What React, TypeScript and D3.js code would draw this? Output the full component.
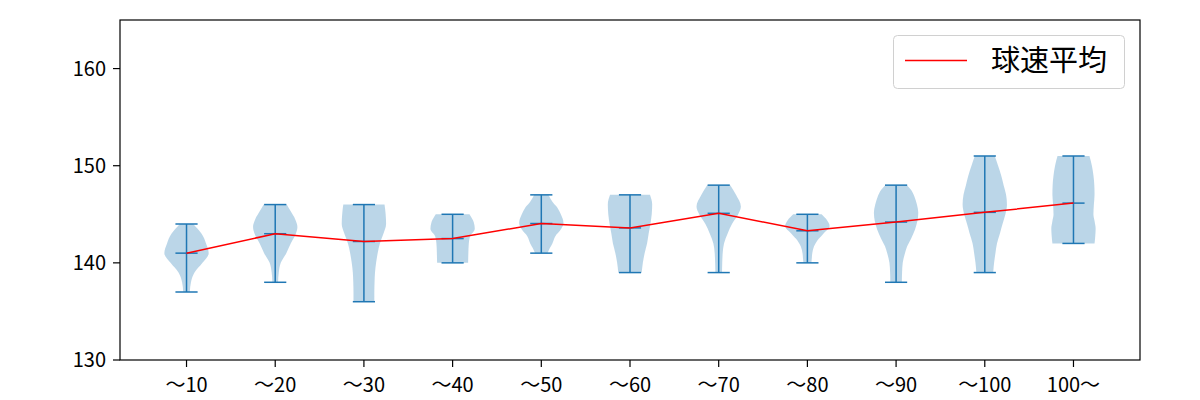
import * as d3 from "d3";

const categories = ["〜10", "〜20", "〜30", "〜40", "〜50", "〜60", "〜70", "〜80", "〜90", "〜100", "100〜"];
const means = [141.0, 143.0, 142.2, 142.5, 144.05, 143.6, 145.1, 143.3, 144.2, 145.2, 146.15];
const mins = [137, 138, 136, 140, 141, 139, 139, 140, 138, 139, 142];
const maxs = [144, 146, 146, 145, 147, 147, 148, 145, 148, 151, 151];
const yTicks = [130, 140, 150, 160];

// density outline per violin: [speed, relative half-width]
const profiles: [number, number][][] = [
  [[137, 0.15], [138, 0.2], [139, 0.36], [140, 0.72], [141, 1.0], [142, 0.88], [143, 0.68], [143.5, 0.5], [144, 0.3]],
  [[138, 0.13], [139, 0.16], [140, 0.25], [141, 0.5], [142, 0.7], [143, 0.93], [143.7, 1.0], [144.5, 0.9], [145.3, 0.7], [146, 0.52]],
  [[136, 0.47], [137, 0.47], [138, 0.48], [139, 0.5], [140, 0.55], [141, 0.62], [142, 0.72], [143, 0.88], [144, 1.0], [145, 0.98], [146, 0.93]],
  [[140, 0.7], [141, 0.71], [142, 0.73], [142.7, 0.78], [143.5, 1.0], [144.2, 0.95], [145, 0.76]],
  [[141, 0.28], [141.5, 0.38], [142, 0.5], [142.7, 0.62], [143.5, 0.9], [144.1, 1.0], [145, 0.88], [145.7, 0.72], [146.3, 0.5], [147, 0.32]],
  [[139, 0.53], [140, 0.58], [141, 0.66], [142, 0.77], [143, 0.84], [144, 0.92], [145, 0.98], [146, 1.0], [147, 0.9]],
  [[139, 0.15], [140, 0.16], [141, 0.18], [142, 0.24], [143, 0.4], [144, 0.6], [145, 0.88], [145.8, 1.0], [147, 0.78], [148, 0.52]],
  [[140, 0.18], [140.5, 0.2], [141, 0.22], [141.7, 0.3], [142.3, 0.45], [143, 0.72], [143.8, 1.0], [144.4, 0.88], [145, 0.64]],
  [[138, 0.26], [139, 0.27], [140, 0.3], [141, 0.4], [141.7, 0.5], [142.5, 0.68], [143.4, 0.85], [144.3, 0.96], [145.1, 1.0], [146, 0.94], [146.8, 0.83], [147.5, 0.68], [148, 0.49]],
  [[139, 0.38], [140, 0.42], [141, 0.48], [142, 0.55], [143, 0.68], [144, 0.8], [145, 0.93], [146, 1.0], [147, 0.96], [148, 0.85], [149, 0.74], [150, 0.6], [151, 0.45]],
  [[142, 0.95], [142.7, 0.98], [143.5, 1.0], [144.3, 0.95], [145, 0.9], [146, 0.92], [147, 0.95], [148, 0.94], [149, 0.9], [150, 0.83], [151, 0.72]],
];

const W = 1200;
const H = 400;
const left = 120;
const right = 1140;
const top = 20;
const bottom = 360;
const tickLen = 7;
const blue = "#1f77b4";
const font = "'Noto Sans CJK JP', 'Noto Sans', sans-serif";

export default function App() {
  const x = d3.scaleLinear().domain([0.25, categories.length + 0.75]).range([left, right]);
  const y = d3.scaleLinear().domain([130, 165]).range([bottom, top]);
  const halfW = x(1.25) - x(1);
  const capW = x(1.125) - x(1);

  const meanLine = d3
    .line<number>()
    .x((_, i) => x(i + 1))
    .y((d) => y(d));

  return (
    <svg
      width={W}
      height={H}
      style={{ position: "absolute", left: 0, top: 0, background: "#fff" }}
      fontFamily={font}
    >
      <rect x={0} y={0} width={W} height={H} fill="#fff" />
      {profiles.map((p, i) => {
        const cx = x(i + 1);
        const area = d3
          .area<[number, number]>()
          .y((d) => y(d[0]))
          .x0((d) => cx - d[1] * halfW)
          .x1((d) => cx + d[1] * halfW)
          .curve(d3.curveMonotoneY);
        return <path key={"v" + i} d={area(p) ?? ""} fill={blue} fillOpacity={0.3} />;
      })}
      {categories.map((_, i) => {
        const cx = x(i + 1);
        return (
          <g key={"l" + i} stroke={blue} strokeWidth={1.5}>
            <line x1={cx} x2={cx} y1={y(mins[i])} y2={y(maxs[i])} />
            <line x1={cx - capW} x2={cx + capW} y1={y(mins[i])} y2={y(mins[i])} />
            <line x1={cx - capW} x2={cx + capW} y1={y(maxs[i])} y2={y(maxs[i])} />
            <line x1={cx - capW} x2={cx + capW} y1={y(means[i])} y2={y(means[i])} />
          </g>
        );
      })}
      <path d={meanLine(means) ?? ""} fill="none" stroke="red" strokeWidth={1.5} />

      <rect x={left} y={top} width={right - left} height={bottom - top} fill="none" stroke="#000" strokeWidth={1.2} />

      {yTicks.map((t) => (
        <g key={"yt" + t}>
          <line x1={left - tickLen} x2={left} y1={y(t)} y2={y(t)} stroke="#000" strokeWidth={1.2} />
          <text x={left - 14} y={y(t)} dy="0.35em" textAnchor="end" fontSize={20} fill="#000">
            {t}
          </text>
        </g>
      ))}
      {categories.map((c, i) => (
        <g key={"xt" + i}>
          <line x1={x(i + 1)} x2={x(i + 1)} y1={bottom} y2={bottom + tickLen} stroke="#000" strokeWidth={1.2} />
          <text x={x(i + 1)} y={bottom + 32} textAnchor="middle" fontSize={20} fill="#000">
            {c}
          </text>
        </g>
      ))}

      <g>
        <rect x={893.5} y={35.5} width={231} height={53} rx={4} fill="#fff" fillOpacity={0.8} stroke="#d0d0d0" />
        <line x1={905} x2={967} y1={60.5} y2={60.5} stroke="red" strokeWidth={1.5} />
        <text x={991} y={61} dy="0.35em" fontSize={29} fill="#000">
          球速平均
        </text>
      </g>
    </svg>
  );
}
